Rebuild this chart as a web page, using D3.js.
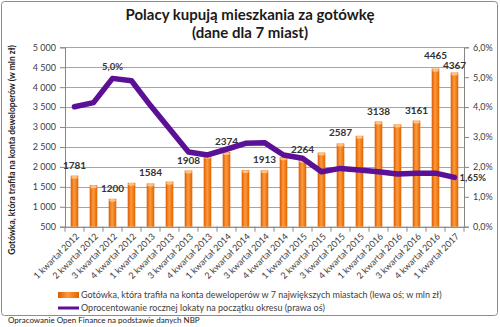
<!DOCTYPE html>
<html><head><meta charset="utf-8">
<script src="https://cdn.jsdelivr.net/npm/d3@7"></script>
<style>body{margin:0;background:#fff} svg{display:block} text{font-family:Lato,"Open Sans",sans-serif}</style>
</head><body><svg id="c" width="500" height="327"></svg>
<script>
const categories = ["1 kwartał 2012","2 kwartał 2012","3 kwartał 2012","4 kwartał 2012","1 kwartał 2013","2 kwartał 2013","3 kwartał 2013","4 kwartał 2013","1 kwartał 2014","2 kwartał 2014","3 kwartał 2014","4 kwartał 2014","1 kwartał 2015","2 kwartał 2015","3 kwartał 2015","4 kwartał 2015","1 kwartał 2016","2 kwartał 2016","3 kwartał 2016","4 kwartał 2016","1 kwartał 2017"];
const cash = [1781,1540,1200,1600,1584,1630,1908,2280,2374,1920,1913,2240,2180,2360,2587,2780,3138,3065,3161,4465,4367];
const cashLabels = ["1781",null,"1200",null,"1584",null,"1908",null,"2374",null,"1913",null,"2264",null,"2587",null,"3138",null,"3161","4465","4367"];
const rate = [4.01,4.15,4.96,4.88,4.05,3.28,2.50,2.40,2.59,2.79,2.81,2.40,2.29,1.84,1.95,1.90,1.84,1.76,1.79,1.79,1.65];
const rateLabels = [null,null,"5,0%",null,null,null,null,null,null,null,null,null,null,null,null,null,null,null,null,null,"1,65%"];
const leftTicks = [500,1000,1500,2000,2500,3000,3500,4000,4500,5000];
const rightTicks = [0,1,2,3,4,5,6];
const title1 = "Polacy kupują mieszkania za gotówkę";
const title2 = "(dane dla 7 miast)";
const leftTitle = "Gotówka, która trafiła na konta deweloperów  (w mln zł)";
const legend1 = "Gotówka, która trafiła na konta deweloperów w 7 największych miastach (lewa oś; w mln zł)";
const legend2 = "Oprocentowanie rocznej lokaty na początku okresu (prawa oś)";
const source = "Opracowanie Open Finance na podstawie danych NBP";

const svg = d3.select("#c");
const L = 65, R = 464, T = 47.3, B = 226.7;
const purple = "#5b1096", txt = "#404040";

const defs = svg.append("defs");
const g = defs.append("linearGradient").attr("id","bar").attr("x1","0").attr("x2","1").attr("y1","0").attr("y2","0");
g.append("stop").attr("offset","0").attr("stop-color","#d85c00");
g.append("stop").attr("offset","0.45").attr("stop-color","#ff9a3c");
g.append("stop").attr("offset","1").attr("stop-color","#e06400");

svg.append("rect").attr("x",1.5).attr("y",1.5).attr("width",496).attr("height",314)
  .attr("fill","#fff").attr("stroke","#8c8c8c").attr("stroke-width",1).attr("rx",3);

const x = d3.scaleBand().domain(categories).range([L,R]).paddingInner(0.6).paddingOuter(0.3);
const xc = i => x(categories[i]) + x.bandwidth()/2;
const y = d3.scaleLinear().domain([500,5000]).range([B,T]);
const y2 = d3.scaleLinear().domain([0,6]).range([B,T]);

// grid
svg.append("g").selectAll("line").data(leftTicks).join("line")
  .attr("x1",L).attr("x2",R).attr("y1",d=>Math.round(y(d))+0.5).attr("y2",d=>Math.round(y(d))+0.5)
  .attr("stroke","#a6a6a6").attr("stroke-width",1);

// left axis
const fmtL = d => d3.format(",")(d).replace(/,/g," ");
const ga = svg.append("g").attr("transform",`translate(${L},0)`)
  .call(d3.axisLeft(y).tickValues(leftTicks).tickFormat(fmtL).tickSize(5).tickPadding(4));
ga.select(".domain").attr("stroke","#868686");
ga.selectAll(".tick line").attr("stroke","#868686");
ga.selectAll("text").attr("font-size",9).attr("fill",txt).style("font-family","Lato");

// right axis
const gr = svg.append("g").attr("transform",`translate(${R},0)`)
  .call(d3.axisRight(y2).tickValues(rightTicks).tickFormat(d=>d3.format(".1f")(d).replace(".",",")+"%").tickSize(5).tickPadding(4));
gr.select(".domain").attr("stroke","#868686");
gr.selectAll(".tick line").attr("stroke","#868686");
gr.selectAll("text").attr("font-size",9).attr("fill",txt).style("font-family","Lato");

// bottom axis
const step = (R-L)/categories.length;
svg.append("line").attr("x1",L).attr("x2",R).attr("y1",B+0.5).attr("y2",B+0.5).attr("stroke","#868686");
svg.append("g").selectAll("line").data(d3.range(categories.length+1)).join("line")
  .attr("x1",i=>L+i*step).attr("x2",i=>L+i*step).attr("y1",B).attr("y2",B+5).attr("stroke","#868686");
svg.append("g").selectAll("text").data(categories).join("text")
  .attr("transform",(d,i)=>`translate(${xc(i)+3},${B+8}) rotate(-45)`)
  .attr("text-anchor","end").attr("dy","0.35em").attr("font-size",9).attr("fill",txt).text(d=>d);

// bars
svg.append("g").selectAll("rect").data(cash).join("rect")
  .attr("x",(d,i)=>x(categories[i])).attr("width",x.bandwidth())
  .attr("y",d=>y(d)).attr("height",d=>B-y(d)).attr("fill","url(#bar)");
svg.append("g").selectAll("ellipse").data(cash).join("ellipse")
  .attr("cx",(d,i)=>xc(i)).attr("cy",d=>y(d)+1.5).attr("rx",x.bandwidth()/2-0.5).attr("ry",1.5).attr("fill","#ffc080");

// bar labels
const labelLift = i => i===19 ? 10 : (i===20 ? 3.5 : 7);
svg.append("g").selectAll("text").data(cash).join("text")
  .attr("x",(d,i)=>xc(i)).attr("y",(d,i)=>y(d)-labelLift(i))
  .attr("text-anchor","middle").attr("font-size",10).attr("font-weight","bold").attr("fill","#333")
  .text((d,i)=>cashLabels[i]||"");

// line
const line = d3.line().x((d,i)=>xc(i)).y(d=>y2(d));
svg.append("path").datum(rate).attr("d",line).attr("fill","none").attr("stroke",purple)
  .attr("stroke-width",5.5).attr("stroke-linejoin","round").attr("stroke-linecap","round");
svg.append("g").selectAll("text").data(rate).join("text")
  .attr("x",(d,i)=> i===20 ? xc(i)+5 : xc(i))
  .attr("y",(d,i)=> i===20 ? y2(d)+3.5 : y2(d)-8)
  .attr("text-anchor",(d,i)=> i===20 ? "start":"middle")
  .attr("font-size",9.5).attr("font-weight","bold").attr("fill","#333")
  .text((d,i)=>rateLabels[i]||"");

// titles
svg.append("text").attr("x",250).attr("y",20).attr("text-anchor","middle").attr("font-size",15).attr("font-weight","bold").attr("fill","#1a1a1a").text(title1);
svg.append("text").attr("x",250).attr("y",38).attr("text-anchor","middle").attr("font-size",15).attr("font-weight","bold").attr("fill","#1a1a1a").text(title2);
svg.append("text").attr("transform","translate(15,150) rotate(-90)").attr("text-anchor","middle")
  .attr("font-size",8.5).attr("font-weight","bold").attr("fill","#222").text(leftTitle);

// legend
svg.append("rect").attr("x",58).attr("y",292).attr("width",21).attr("height",6).attr("fill","url(#bar)");
svg.append("text").attr("x",81).attr("y",298).attr("font-size",9).attr("fill",txt).text(legend1);
svg.append("line").attr("x1",58).attr("x2",79).attr("y1",308).attr("y2",308).attr("stroke",purple).attr("stroke-width",3);
svg.append("text").attr("x",81).attr("y",311).attr("font-size",9).attr("fill",txt).text(legend2);
svg.append("text").attr("x",8).attr("y",323).attr("font-size",8).attr("fill","#222").text(source);
</script></body></html>
